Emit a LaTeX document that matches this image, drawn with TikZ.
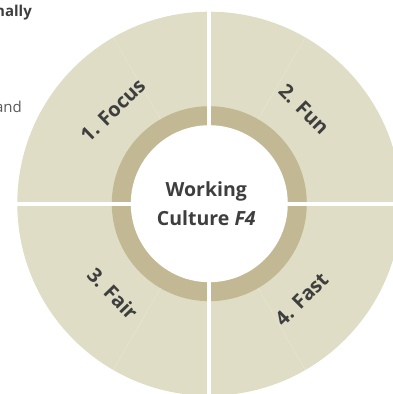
\documentclass[tikz,border=0pt]{standalone}
\usepackage{fontspec}
\setmainfont{Open Sans}
\definecolor{ringlight}{HTML}{DFDDC5}
\definecolor{ringdark}{HTML}{C2B994}
\definecolor{txt}{HTML}{3E3E3E}
\definecolor{sidetxt}{HTML}{5A5A5A}
\begin{document}
\begin{tikzpicture}[x=1pt,y=1pt,
  seglabel/.style={text=txt, font=\bfseries\fontsize{20}{24}\selectfont, inner sep=0pt},
  gap/.style={white, line width=4pt},
  divider/.style={white!30!ringlight, line width=0.4pt}]
\useasboundingbox (0,0) rectangle (393,394);
\clip (0,0) rectangle (393,394);
\coordinate (c) at (209.3,190.3);
\fill[ringlight] (c) circle (192);
\fill[ringdark] (c) circle (97.5);
\fill[white] (c) circle (78.5);
\foreach \a in {60,120,240,300}
  \draw[divider] ([shift={(\a:97.5)}]c) -- ([shift={(\a:192)}]c);
\coordinate (gl) at ([shift={(-200,0)}]c);
\coordinate (gr) at ([shift={(200,0)}]c);
\coordinate (gt) at ([shift={(0,200)}]c);
\coordinate (gb) at ([shift={(0,-200)}]c);
\draw[gap] (gl) -- (gr);
\draw[gap] (gb) -- (gt);
\node[seglabel, rotate=44] (focus) at ([shift={(136:134)}]c) {1. Focus};
\node[seglabel, rotate=-45] (fun) at ([shift={(45:134)}]c) {2. Fun};
\node[seglabel, rotate=-46] (fair) at ([shift={(223:132)}]c) {3. Fair};
\node[seglabel, rotate=45] (fast) at ([shift={(-46:133)}]c) {4. Fast};
\node[text=txt, align=center, font=\bfseries\fontsize{19.5}{29}\selectfont] (title) at ([shift={(-3,0)}]c) {Working\\Culture \textit{F4}};
\node[anchor=base east, text=txt, font=\bfseries\fontsize{15}{18}\selectfont, inner sep=0pt] (nally) at (32,377) {nally};
\node[anchor=base east, text=sidetxt, font=\fontsize{15}{18}\selectfont, inner sep=0pt] (and) at (22,281) {and};
\end{tikzpicture}
\end{document}
